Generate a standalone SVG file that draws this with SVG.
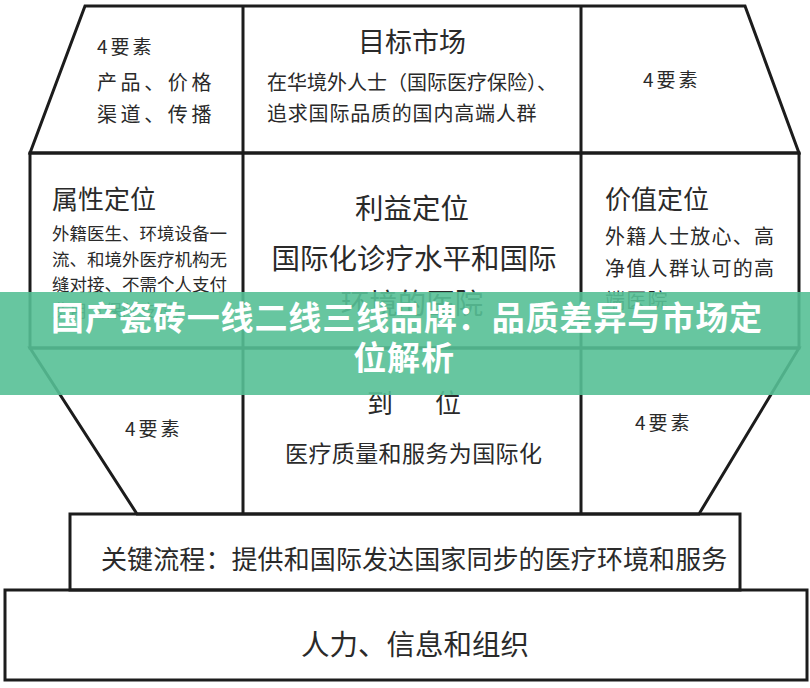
<svg xmlns="http://www.w3.org/2000/svg" width="810" height="688" viewBox="0 0 810 688">
<style>
.ln{fill:none;stroke:#1c1c1c;stroke-width:3;stroke-linejoin:miter}
.t{font-family:"Noto Sans CJK SC","Liberation Sans",sans-serif;fill:#2a2a2a}
.h{font-size:27px}
.s{font-size:19px;letter-spacing:3px}
.m{font-size:20px}
.ban{font-family:"Noto Sans CJK SC","Liberation Sans",sans-serif;font-weight:bold;font-size:33px;fill:#ffffff;text-anchor:middle}
</style>
<rect width="810" height="688" fill="#ffffff"/>
<g id="frame">
<polygon class="ln" points="85,6 745,6 799,153 30,153"/>
<rect class="ln" x="30" y="153" width="769" height="195"/>
<polygon class="ln" points="30,348 799,348 699,514 137,514"/>
<rect class="ln" x="70" y="514" width="670" height="76"/>
<rect class="ln" x="5" y="590" width="802" height="90"/>
<line class="ln" x1="243" y1="6" x2="243" y2="514"/>
<line class="ln" x1="581" y1="6" x2="581" y2="514"/>
</g>
<g id="connectors"></g>
<g id="top-left">
<text class="t s" x="97" y="54">4要素</text>
<text class="t m" x="97" y="90" style="letter-spacing:3.6px">产品、价格</text>
<text class="t m" x="97" y="122" style="letter-spacing:3.6px">渠道、传播</text>
</g>
<g id="top-center">
<text class="t h" x="412" y="52" text-anchor="middle">目标市场</text>
<text class="t m" x="267" y="90">在华境外人士（国际医疗保险）、</text>
<text class="t m" x="267" y="121" style="letter-spacing:0.8px">追求国际品质的国内高端人群</text>
</g>
<g id="top-right">
<text class="t s" x="643" y="87">4要素</text>
</g>
<g id="mid-left">
<text class="t" x="52" y="209" style="font-size:26px">属性定位</text>
<text class="t" x="52" y="240" style="font-size:17.5px">外籍医生、环境设备一</text>
<text class="t" x="52" y="265.5" style="font-size:17.5px">流、和境外医疗机构无</text>
<text class="t" x="52" y="291" style="font-size:17.5px">缝对接、不需个人支付</text>
<text class="t" x="52" y="316.5" style="font-size:17.5px">费用（保险支付）</text>
</g>
<g id="mid-center">
<text class="t" x="412" y="219" text-anchor="middle" style="font-size:28.5px">利益定位</text>
<text class="t" x="414" y="269" text-anchor="middle" style="font-size:28.5px">国际化诊疗水平和国际</text>
<text class="t" x="412" y="314" text-anchor="middle" style="font-size:28.5px">环境的医院</text>
</g>
<g id="mid-right">
<text class="t" x="605" y="209" style="font-size:26px">价值定位</text>
<text class="t" x="605" y="244" style="font-size:20px;letter-spacing:1.3px">外籍人士放心、高</text>
<text class="t" x="605" y="276" style="font-size:20px;letter-spacing:1.3px">净值人群认可的高</text>
<text class="t" x="605" y="308" style="font-size:20px;letter-spacing:1.3px">端医院</text>
</g>
<g id="low-left">
<text class="t s" x="125" y="436">4要素</text>
</g>
<g id="low-center">
<text class="t" x="367" y="413" style="font-size:26px">到</text>
<text class="t" x="435" y="413" style="font-size:26px">位</text>
<text class="t" x="285" y="462" style="font-size:23px;letter-spacing:0.4px">医疗质量和服务为国际化</text>
</g>
<g id="low-right">
<text class="t s" x="635" y="430">4要素</text>
</g>
<g id="key-process">
<text class="t" x="101" y="569" style="font-size:26px;letter-spacing:0.1px">关键流程：提供和国际发达国家同步的医疗环境和服务</text>
</g>
<g id="base">
<text class="t" x="415" y="655" text-anchor="middle" style="font-size:28.5px">人力、信息和组织</text>
</g>
<g id="banner">
<rect x="0" y="292" width="810" height="103" fill="#56c096" fill-opacity="0.9"/>
<text class="ban" x="407" y="330" style="letter-spacing:0.9px">国产瓷砖一线二线三线品牌：品质差异与市场定</text>
<text class="ban" x="404" y="370" style="letter-spacing:0.9px">位解析</text>
</g>
</svg>
